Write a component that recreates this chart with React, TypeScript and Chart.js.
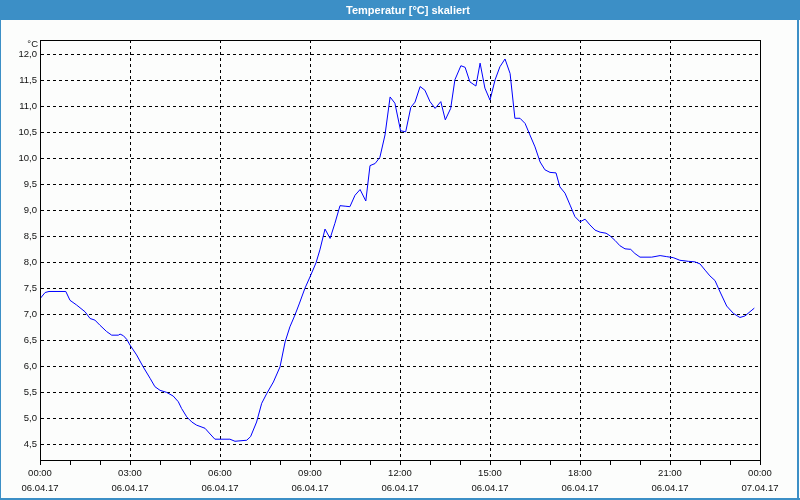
import React, { useEffect, useRef } from 'react';
import { Chart, registerables } from 'chart.js';

Chart.register(...registerables);

const TITLE = 'Temperatur [°C] skaliert';
const UNIT = '°C';

// time of day in hours
const hours = [
  0.0, 0.17, 0.3, 0.86, 1.0, 1.22, 1.5, 1.67, 1.83, 2.0, 2.22, 2.39, 2.61, 2.67, 2.78, 2.89,
  3.0, 3.22, 3.44, 3.67, 3.83, 4.0, 4.22, 4.44, 4.61, 4.72, 4.89, 5.06, 5.22, 5.5, 5.67, 5.83,
  6.33, 6.5, 6.89, 7.02, 7.22, 7.39, 7.56, 7.78, 8.0, 8.17, 8.33, 8.5, 8.64, 8.83,
  9.0, 9.2, 9.33, 9.5, 9.67, 9.83, 10.0, 10.17, 10.33, 10.5, 10.67, 10.86, 11.0, 11.17, 11.33, 11.5, 11.67, 11.83,
  12.02, 12.19, 12.36, 12.5, 12.67, 12.83, 13.0, 13.17, 13.36, 13.51, 13.69, 13.83, 14.03, 14.17, 14.33, 14.53, 14.67, 14.83,
  15.0, 15.17, 15.33, 15.5, 15.67, 15.83, 16.0, 16.17, 16.33, 16.5, 16.67, 16.83, 17.0, 17.2, 17.33, 17.5, 17.67, 17.83,
  18.0, 18.17, 18.33, 18.5, 18.67, 18.87, 19.0, 19.17, 19.33, 19.5, 19.69, 19.83, 20.0, 20.39, 20.67, 20.89,
  21.11, 21.33, 21.61, 21.83, 22.0, 22.17, 22.33, 22.5, 22.67, 22.89, 23.11, 23.33, 23.5, 23.81,
];

// temperature in °C
const temps = [
  7.30, 7.42, 7.44, 7.44, 7.27, 7.18, 7.05, 6.92, 6.89, 6.79, 6.67, 6.60, 6.60, 6.62, 6.59, 6.52,
  6.41, 6.22, 5.99, 5.77, 5.61, 5.54, 5.50, 5.43, 5.32, 5.19, 5.03, 4.93, 4.87, 4.81, 4.70, 4.60,
  4.60, 4.56, 4.58, 4.65, 4.93, 5.29, 5.48, 5.70, 5.99, 6.47, 6.76, 6.99, 7.20, 7.50,
  7.72, 7.99, 8.24, 8.64, 8.46, 8.75, 9.09, 9.08, 9.07, 9.29, 9.40, 9.18, 9.86, 9.90, 10.02, 10.45, 11.18, 11.06,
  10.53, 10.51, 10.98, 11.08, 11.38, 11.31, 11.09, 10.96, 11.09, 10.74, 10.96, 11.51, 11.78, 11.75, 11.47, 11.39, 11.83, 11.35,
  11.12, 11.51, 11.76, 11.91, 11.63, 10.77, 10.77, 10.67, 10.45, 10.22, 9.93, 9.78, 9.73, 9.72, 9.45, 9.33, 9.10, 8.88,
  8.78, 8.83, 8.72, 8.62, 8.58, 8.56, 8.51, 8.42, 8.32, 8.26, 8.25, 8.17, 8.10, 8.10, 8.13, 8.11,
  8.09, 8.04, 8.02, 8.01, 7.97, 7.85, 7.74, 7.65, 7.43, 7.16, 7.02, 6.94, 6.97, 7.12,
];

const yTicks = [4.5, 5.0, 5.5, 6.0, 6.5, 7.0, 7.5, 8.0, 8.5, 9.0, 9.5, 10.0, 10.5, 11.0, 11.5, 12.0];
const xTickHours = [0, 1, 2, 3, 4, 5, 6, 7, 8, 9, 10, 11, 12, 13, 14, 15, 16, 17, 18, 19, 20, 21, 22, 23, 24];
const xTimeLabels = ['00:00', '03:00', '06:00', '09:00', '12:00', '15:00', '18:00', '21:00', '00:00'];
const xDateLabels = ['06.04.17', '06.04.17', '06.04.17', '06.04.17', '06.04.17', '06.04.17', '06.04.17', '06.04.17', '07.04.17'];

const FONT = 'Liberation Sans, Arial, sans-serif';
const BLUE = '#3c8fc6';

export default function App() {
  const ref = useRef<HTMLCanvasElement>(null);

  useEffect(() => {
    document.body.style.margin = '0';
    const canvas = ref.current;
    if (!canvas) return;

    const framePlugin = {
      id: 'frame',
      beforeDraw(chart: any) {
        const { ctx, width, height } = chart;
        ctx.save();
        ctx.fillStyle = '#fcfdfc';
        ctx.fillRect(0, 0, width, height);
        ctx.fillStyle = BLUE;
        ctx.fillRect(0, 0, width, 20);
        ctx.fillRect(0, 0, 1, height);
        ctx.fillRect(width - 3, 0, 2, height);
        ctx.fillRect(0, height - 2, width, 2);
        ctx.restore();
      },
      afterDraw(chart: any) {
        const { ctx, chartArea: a } = chart;
        ctx.save();
        ctx.strokeStyle = '#000';
        ctx.lineWidth = 1;
        ctx.setLineDash([]);
        ctx.strokeRect(a.left + 0.5, a.top + 0.5, a.right - a.left, a.bottom - a.top);
        ctx.fillStyle = '#111';
        ctx.font = `9.5px ${FONT}`;
        ctx.textAlign = 'right';
        ctx.textBaseline = 'middle';
        ctx.fillText(UNIT, a.left - 2, a.top + 4);
        ctx.restore();
      },
    };

    const chart = new Chart(canvas, {
      type: 'line',
      data: {
        datasets: [
          {
            data: hours.map((h, i) => ({ x: h, y: temps[i] })),
            borderColor: '#0000ff',
            borderWidth: 1,
            pointRadius: 0,
            tension: 0,
            fill: false,
          },
        ],
      },
      options: {
        responsive: false,
        animation: false,
        layout: { padding: { left: 16, right: 0, top: 0, bottom: 0 } },
        plugins: {
          legend: { display: false },
          tooltip: { enabled: false },
          title: {
            display: true,
            text: TITLE,
            color: '#ffffff',
            font: { family: FONT, size: 11, weight: 'bold', lineHeight: 1.2 },
            padding: { top: 4, bottom: 22.8 },
          },
        },
        scales: {
          x: {
            type: 'linear',
            min: 0,
            max: 24,
            bounds: 'data',
            afterBuildTicks: (s: any) => {
              s.ticks = xTickHours.map((v) => ({ value: v }));
            },
            afterFit: (s: any) => {
              s.height = 40;
            },
            ticks: {
              autoSkip: false,
              maxRotation: 0,
              minRotation: 0,
              padding: 1,
              color: '#111',
              font: { family: FONT, size: 9.5, lineHeight: 15 / 9.5 },
              callback: (v: any) => {
                const n = Number(v);
                if (n % 3 !== 0) return '';
                const i = n / 3;
                return [xTimeLabels[i], xDateLabels[i]];
              },
            },
            grid: {
              color: (c: any) => (c.tick && c.tick.value % 3 === 0 ? '#000' : 'rgba(0,0,0,0)'),
              tickColor: '#000',
              tickLength: 5,
              lineWidth: 1,
            },
            border: { display: true, color: '#000', dash: [3, 3] },
          },
          y: {
            type: 'linear',
            min: 4.2,
            max: 12.275,
            bounds: 'data',
            afterBuildTicks: (s: any) => {
              s.ticks = yTicks.map((v) => ({ value: v }));
            },
            afterFit: (s: any) => {
              s.width = 24;
            },
            ticks: {
              padding: 3,
              color: '#111',
              font: { family: FONT, size: 9.5 },
              callback: (v: any) => Number(v).toFixed(1).replace('.', ','),
            },
            grid: { color: '#000', drawTicks: false, lineWidth: 1 },
            border: { display: true, color: '#000', dash: [3, 3] },
          },
          yRight: {
            type: 'linear',
            position: 'right',
            display: true,
            min: 4.2,
            max: 12.275,
            afterFit: (s: any) => {
              s.width = 40;
            },
            ticks: { display: false },
            grid: { display: false, drawTicks: false },
            border: { display: false },
          },
        },
      },
      plugins: [framePlugin],
    });

    return () => {
      chart.destroy();
    };
  }, []);

  return (
    <div style={{ width: 800, height: 500 }}>
      <canvas ref={ref} width={800} height={500} style={{ display: 'block' }} />
    </div>
  );
}
